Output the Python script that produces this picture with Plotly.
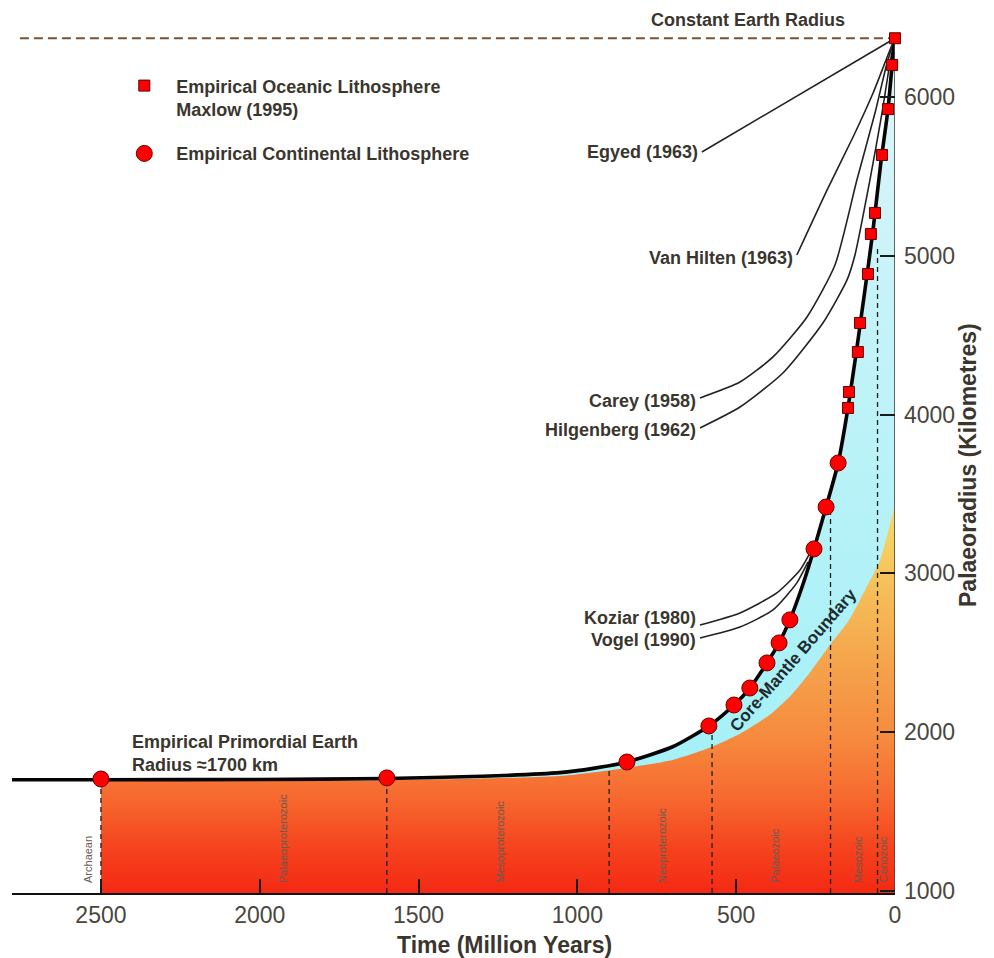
import plotly.graph_objects as go

# ---- data: age in million years before present, radius in kilometres ----
main_age = [2780, 2500, 2000, 1600, 1300, 1055, 950, 844, 700, 586, 507, 457, 403, 365,
            331, 290, 255, 217, 179, 148, 120, 95, 70, 45, 22, 9, 0]
main_radius = [1700, 1700, 1702, 1708, 1722, 1745, 1772, 1812, 1908, 2039, 2171, 2278, 2436, 2562,
               2707, 2930, 3154, 3418, 3695, 4042, 4420, 4780, 5150, 5580, 5924, 6202, 6370]

cmb_age = [2500, 2000, 1600, 1300, 1055, 844, 700, 586, 488, 394, 331, 270, 205, 150, 110, 47, 6, 0]
cmb_radius = [1692, 1693, 1697, 1708, 1724, 1775, 1825, 1900, 1990, 2110, 2225, 2370, 2549, 2690,
              2833, 3084, 3385, 3430]

oceanic_age = [0, 9, 22, 41, 63, 76, 85, 110, 117, 145, 148]
oceanic_radius = [6370, 6202, 5924, 5635, 5270, 5137, 4885, 4577, 4394, 4142, 4042]

continental_age = [2500, 1600, 844, 586, 507, 457, 403, 365, 331, 255, 217, 179]
continental_radius = [1705, 1712, 1812, 2039, 2171, 2278, 2436, 2562, 2707, 3154, 3418, 3695]

constant_radius = 6370
constant_age = [2755, 0]

egyed_age = [608, 0]
egyed_radius = [5654, 6370]
vanhilten_age = [309, 214, 132, 69, 16, 0]
vanhilten_radius = [5005, 5414, 5748, 6025, 6296, 6370]
carey_age = [614, 488, 384, 277, 189, 120, 63, 25, 0]
carey_radius = [4105, 4205, 4363, 4615, 4942, 5477, 5899, 6214, 6370]
hilgenberg_age = [614, 488, 353, 227, 151, 126, 79, 41, 16, 0]
hilgenberg_radius = [3916, 4048, 4262, 4577, 4848, 5005, 5477, 5899, 6214, 6370]
koziar_age = [614, 488, 372, 299, 261]
koziar_radius = [2675, 2751, 2877, 3021, 3154]
vogel_age = [614, 488, 384, 309, 274]
vogel_radius = [2593, 2662, 2770, 2940, 3072]

model_names = ["Egyed (1963)", "Van Hilten (1963)", "Carey (1958)", "Hilgenberg (1962)",
               "Koziar (1980)", "Vogel (1990)"]
model_label_radius = [5654, 4985, 4086, 3903, 2722, 2581]

era_boundary_age = [2500, 1600, 900, 576, 203, 55]
era_boundary_top = [1700, 1708, 1790, 2050, 3480, 5050]
era_names = ["Archaean", "Palaeoproterozoic", "Mesoproterozoic", "Neoproterozoic",
             "Palaeozoic", "Mesozoic", "Cenozoic"]
era_label_age = [2541, 1927, 1244, 734, 378, 117, 38]

x_ticks = [2500, 2000, 1500, 1000, 500, 0]
y_ticks = [1000, 2000, 3000, 4000, 5000, 6000]
x_range = [2780, 0]
y_range = [987, 6485]

FONT = "Liberation Sans, Arial, sans-serif"
TEXT = "#3a362e"

fig = go.Figure()

# mantle (cyan) fill under the empirical curve
fig.add_trace(go.Scatter(
    x=main_age[1:], y=main_radius[1:], mode="lines",
    line=dict(width=0, shape="spline", smoothing=0.6),
    fill="tozeroy",
    fillgradient=dict(type="vertical", start=2000, stop=6370,
                      colorscale=[[0, "#a6f1f7"], [0.6, "#c4f3f8"], [1, "#e0f6f8"]]),
    showlegend=False, hoverinfo="skip"))

# core (orange) fill under the core-mantle boundary
fig.add_trace(go.Scatter(
    x=cmb_age, y=cmb_radius, mode="lines", line=dict(width=0, shape="spline", smoothing=0.6),
    fill="tozeroy",
    fillgradient=dict(type="vertical", start=1000, stop=3400,
                      colorscale=[[0, "#f42a14"], [0.1, "#f5401c"], [0.25, "#f66a30"],
                                  [0.4, "#f68a3e"], [0.6, "#f5a44c"], [0.8, "#f5c058"],
                                  [1, "#f4dc68"]]),
    showlegend=False, hoverinfo="skip"))

# era boundaries
for age, top in zip(era_boundary_age, era_boundary_top):
    fig.add_trace(go.Scatter(
        x=[age, age], y=[y_range[0], top], mode="lines",
        line=dict(color="#1e1e1e", width=1.3, dash="5px,4px"),
        showlegend=False, hoverinfo="skip"))

# constant earth radius
fig.add_trace(go.Scatter(
    x=constant_age, y=[constant_radius, constant_radius], mode="lines",
    line=dict(color="#7a5535", width=2, dash="9px,5px"),
    showlegend=False, hoverinfo="skip"))

# published expansion models
model_curves = [(egyed_age, egyed_radius), (vanhilten_age, vanhilten_radius),
                (carey_age, carey_radius), (hilgenberg_age, hilgenberg_radius),
                (koziar_age, koziar_radius), (vogel_age, vogel_radius)]
for ages, radii in model_curves:
    fig.add_trace(go.Scatter(
        x=ages, y=radii, mode="lines",
        line=dict(color="#222222", width=1.6, shape="spline", smoothing=0.6),
        showlegend=False, hoverinfo="skip"))

# empirical curve
fig.add_trace(go.Scatter(
    x=main_age, y=main_radius, mode="lines",
    line=dict(color="#050505", width=3.6, shape="spline", smoothing=0.6),
    showlegend=False, hoverinfo="skip"))

# right axis line
fig.add_trace(go.Scatter(
    x=[0, 0], y=[y_range[0], constant_radius], mode="lines",
    line=dict(color="#4a4440", width=1.6), showlegend=False, hoverinfo="skip",
    cliponaxis=False))

fig.add_trace(go.Scatter(
    x=continental_age, y=continental_radius, mode="markers",
    marker=dict(symbol="circle", size=16, color="#ff0000", line=dict(color="#700000", width=1)),
    name="<b>Empirical Continental Lithosphere</b>", legendgroup="b", legendrank=2,
    cliponaxis=False))
fig.add_trace(go.Scatter(
    x=oceanic_age, y=oceanic_radius, mode="markers",
    marker=dict(symbol="square", size=11, color="#ff0000", line=dict(color="#600000", width=1)),
    name="<b>Empirical Oceanic Lithosphere<br>Maxlow (1995)</b>", legendgroup="a",
    legendrank=1, cliponaxis=False))

label_font = dict(family=FONT, size=18, color=TEXT)
for text, (ages, radii), label_r in zip(model_names, model_curves, model_label_radius):
    fig.add_annotation(x=ages[0], y=label_r, text="<b>%s</b>" % text, showarrow=False,
                       xanchor="right", yanchor="middle", xshift=-2, font=label_font)

fig.add_annotation(x=463, y=constant_radius, text="<b>Constant Earth Radius</b>",
                   showarrow=False, yanchor="bottom", yshift=6, font=label_font)
fig.add_annotation(x=2410, y=1866, text="<b>Empirical Primordial Earth<br>Radius ≈1700 km</b>",
                   showarrow=False, xanchor="left", yanchor="middle", align="left",
                   font=label_font)
fig.add_annotation(x=318, y=2455, text="<b>Core-Mantle Boundary</b>", showarrow=False,
                   textangle=-49, font=dict(family=FONT, size=17, color="#1f2a2e"))

for name, age in zip(era_names, era_label_age):
    fig.add_annotation(x=age, y=1040, text=name, showarrow=False, textangle=-90,
                       yanchor="bottom", xanchor="center",
                       font=dict(family=FONT, size=11, color="#6a5a52"))

fig.add_annotation(xref="paper", yref="paper", x=0.558, y=-0.0596,
                   text="<b>Time (Million Years)</b>", showarrow=False, yanchor="middle",
                   font=dict(family=FONT, size=23, color=TEXT))
fig.add_annotation(xref="paper", yref="paper", x=1.0997, y=0.4903,
                   text="<b>Palaeoradius (Kilometres)</b>", showarrow=False, textangle=-90,
                   font=dict(family=FONT, size=23, color=TEXT))

fig.update_layout(
    width=994, height=958,
    margin=dict(l=12, r=99, t=20, b=65),
    plot_bgcolor="white", paper_bgcolor="white",
    legend=dict(x=0.1136, y=0.9457, xanchor="left", yanchor="top", itemwidth=54,
                valign="top", tracegroupgap=18, bgcolor="rgba(0,0,0,0)",
                font=dict(family=FONT, size=18, color=TEXT)),
    xaxis=dict(range=x_range, tickvals=x_ticks, ticks="inside", ticklen=14, tickwidth=2,
               tickcolor="#1a1a1a", showline=True, linecolor="#111111", linewidth=2,
               showgrid=False, zeroline=False, ticklabelstandoff=0,
               tickfont=dict(family=FONT, size=23, color="#4a463e")),
    yaxis=dict(range=y_range, tickvals=y_ticks, side="right", ticks="inside", ticklen=15,
               tickwidth=2, tickcolor="#1a1a1a", showline=False, showgrid=False,
               zeroline=False, ticklabelstandoff=8,
               tickfont=dict(family=FONT, size=23, color="#4a463e")),
)

fig.write_html("out.html")
